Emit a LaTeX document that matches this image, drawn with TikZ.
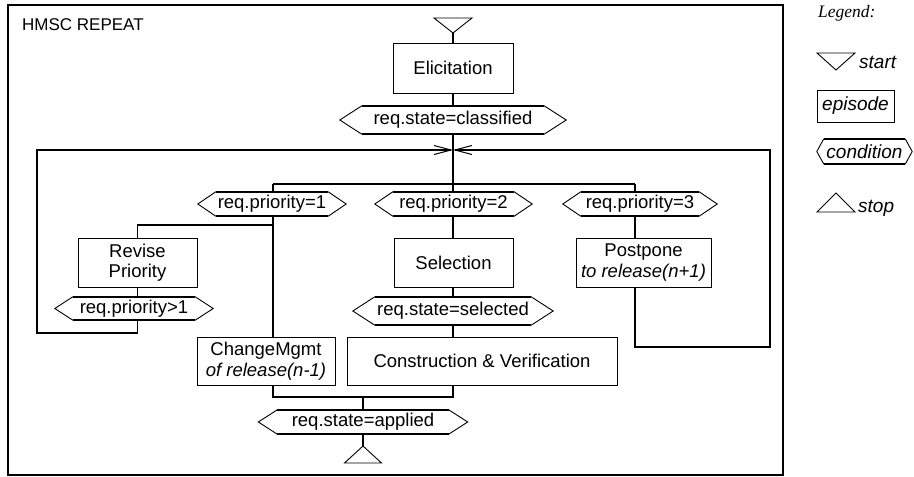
\documentclass[tikz,border=0pt]{standalone}
\usepackage{fontspec}
\setmainfont{Liberation Sans}
\newfontfamily\legendserif{Liberation Serif}
\usetikzlibrary{arrows.meta}

% node text size and the small caption sizes
\newcommand\flowfont{\fontsize{18.5}{20.5}\selectfont}
\newcommand\titlefont{\fontsize{17}{19}\selectfont}
\newcommand\legfont{\fontsize{19}{21}\selectfont\itshape}

% hexagonal outline around a condition node: #1 node name, #2 tip depth
\newcommand\condoutline[2]{%
  \draw[condslant] (#1.north west) -- ([xshift=-#2]#1.west) -- (#1.south west)
                   (#1.north east) -- ([xshift=#2]#1.east) -- (#1.south east);
  \draw[condflat] (#1.north west) -- (#1.north east)
                  (#1.south west) -- (#1.south east);
}

\tikzset{
  frame/.style={line width=2.6pt},
  conn/.style={line width=1.6pt},
  loopback/.style={conn, -{Straight Barb[length=17pt,width=9pt,line width=1pt]}},
  episode/.style={draw, line width=0.9pt, inner sep=0pt, align=center, font=\flowfont},
  cond/.style={inner sep=0pt, align=center, font=\flowfont},
  condslant/.style={line width=0.9pt},
  condflat/.style={line width=1.6pt},
  marker/.style={line width=0.9pt, line join=miter},
}

\begin{document}
\begin{tikzpicture}[x=1pt, y=-1pt]
\useasboundingbox (0,0) rectangle (914,477);

% outer frame and its title
\draw[frame] (8,5) rectangle (783,475);
\node[anchor=base west, inner sep=0pt, font=\titlefont] (title) at (22,30) {HMSC REPEAT};

% start marker
\coordinate (startTip) at (453,33);
\draw[marker] (startTip) -- ++(-19,-15) -- ++(38,0) -- cycle;

% episodes
\node[episode, minimum width=120pt, minimum height=50pt] (elic) at (453,68) {Elicitation};
\node[episode, minimum width=119pt, minimum height=49pt] (revise) at (137.5,262.5) {Revise\\Priority};
\node[episode, minimum width=119pt, minimum height=49pt] (sel) at (453.5,262.5) {Selection};
\node[episode, minimum width=135pt, minimum height=49pt] (post) at (643.5,262.5) {Postpone\\\itshape to release(n+1)};
\node[episode, minimum width=138pt, minimum height=48pt] (chg) at (266,361) {ChangeMgmt\\\itshape of release(n-1)};
\node[episode, minimum width=270pt, minimum height=48pt] (constr) at (482,361) {Construction \& Verification};

% conditions
\node[cond, minimum width=182pt, minimum height=28pt] (classif) at (453,120) {req.state=classified};
\node[cond, minimum width=112pt, minimum height=24pt] (prio1) at (272,204) {req.priority=1};
\node[cond, minimum width=121pt, minimum height=24pt] (prio2) at (453.5,204) {req.priority=2};
\node[cond, minimum width=118pt, minimum height=24pt] (prio3) at (640,204) {req.priority=3};
\node[cond, minimum width=122pt, minimum height=23pt] (prgt) at (134,308.5) {req.priority>1};
\node[cond, minimum width=156pt, minimum height=28pt] (selected) at (453,311) {req.state=selected};
\node[cond, minimum width=171pt, minimum height=24pt] (applied) at (363,422) {req.state=applied};
\condoutline{classif}{22pt}
\condoutline{prio1}{18pt}
\condoutline{prio2}{18pt}
\condoutline{prio3}{18pt}
\condoutline{prgt}{18pt}
\condoutline{selected}{22pt}
\condoutline{applied}{19pt}

% stop marker
\coordinate (stopTip) at (363,446);
\draw[marker] (stopTip) -- ++(-18.5,17) -- ++(37,0) -- cycle;

% routing points
\coordinate (merge) at (453,150);
\coordinate (barL) at (273,184);
\coordinate (barR) at (635,184);
\coordinate (split) at (273,225);
\coordinate (leftLoop) at (37,333);
\coordinate (rightLoop) at (770,347);
\coordinate (join) at (363,397);

% main flow
\draw[conn] (startTip) -- (elic.north);
\draw[conn] (elic.south) -- (classif.north);
\draw[conn] (classif.south) -- (classif.south |- barL);
\draw[conn] (barL) -- (barR);
\draw[conn] (barL) -- (barL |- prio1.north);
\draw[conn] (classif.south |- barL) -- (classif.south |- prio2.north);
\draw[conn] (barR) -- (barR |- prio3.north);

% priority 1 branch
\draw[conn] (barL |- prio1.south) -- (barL |- chg.north);
\draw[conn] (split) -| (revise.north);
\draw[conn] (revise.south) -- (revise.south |- prgt.north);
\draw[loopback] (revise.south |- prgt.south) |- (leftLoop) -- (leftLoop |- merge) -- (merge);

% priority 2 branch
\draw[conn] (classif.south |- prio2.south) -- (classif.south |- sel.north);
\draw[conn] (classif.south |- sel.south) -- (selected.north);
\draw[conn] (selected.south) -- (selected.south |- constr.north);

% priority 3 branch
\draw[conn] (barR |- prio3.south) -- (barR |- post.north);
\draw[loopback] (barR |- post.south) |- (rightLoop) -- (rightLoop |- merge) -- (merge);

% join and end
\draw[conn] (barL |- chg.south) |- (selected.south |- join) -- (selected.south |- constr.south);
\draw[conn] (join) -- (applied.north);
\draw[conn] (applied.south) -- (stopTip);

% legend
\node[anchor=base west, inner sep=0pt, font=\fontsize{17.5}{19}\selectfont\legendserif\itshape] (legtitle) at (818,17) {Legend:};
\coordinate (legStart) at (836,70);
\draw[marker] (legStart) -- ++(-19,-17) -- ++(38,0) -- cycle;
\node[anchor=base west, inner sep=0pt, font=\legfont] (legStartTxt) at (859,68) {start};
\node[draw, line width=0.9pt, inner sep=0pt, minimum width=77pt, minimum height=32pt, font=\legfont] (legEpisode) at (855.5,106) {episode};
\node[cond, font=\legfont, minimum width=81pt, minimum height=25pt] (legCond) at (864.5,151.5) {condition};
\condoutline{legCond}{7pt}
\coordinate (legStop) at (836,193);
\draw[marker] (legStop) -- ++(-19,19) -- ++(38,0) -- cycle;
\node[anchor=base west, inner sep=0pt, font=\legfont] (legStopTxt) at (858,212) {stop};
\end{tikzpicture}
\end{document}
